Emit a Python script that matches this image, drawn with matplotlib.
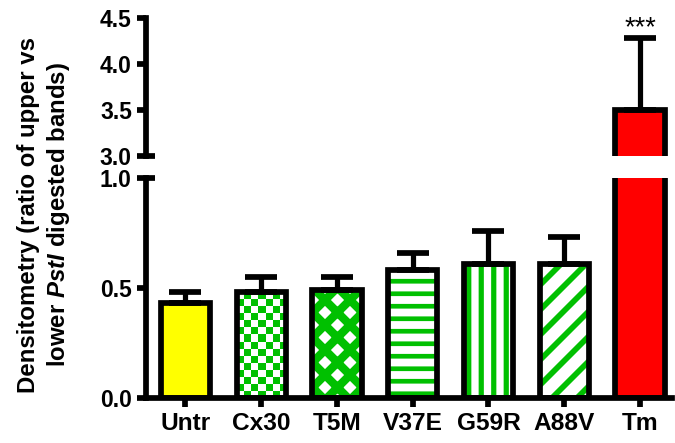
import numpy as np
import matplotlib
matplotlib.use('Agg')
import matplotlib.pyplot as plt
from matplotlib.colors import ListedColormap

plt.rcParams['font.family'] = ['Liberation Sans', 'DejaVu Sans']
plt.rcParams['font.weight'] = 'bold'
plt.rcParams['mathtext.fontset'] = 'custom'
plt.rcParams['mathtext.it'] = 'Liberation Sans:italic:bold'
plt.rcParams['mathtext.rm'] = 'Liberation Sans:bold'
plt.rcParams['hatch.linewidth'] = 4.5

# data
groups = ['Untr', 'Cx30', 'T5M', 'V37E', 'G59R', 'A88V', 'Tm']
means = [0.43, 0.48, 0.49, 0.58, 0.61, 0.61, 3.50]
errors = [0.05, 0.07, 0.06, 0.08, 0.15, 0.12, 0.78]

GREEN = '#00C000'
fills = ['#FFFF00', 'white', 'white', 'white', 'white', 'white', '#FF0000']
hatches = [None, 'checker', 'x', '-', '|', '/', None]
hatch_lw = {'x': 8.0, '-': 4.5, '|': 5.0, '/': 5.5}
LW = 5.5

fig = plt.figure(figsize=(9, 443 / 75), dpi=75)
ax_top = fig.add_axes([0.2163, 0.6479, 0.779, 0.3115])
ax_bot = fig.add_axes([0.2163, 0.1016, 0.779, 0.4966])

x = np.arange(len(groups))
width = 0.65
xlim = (-0.52, 6.42)

for ax, ylim in ((ax_top, (3.0, 4.5)), (ax_bot, (0.0, 1.0))):
    ax.set_xlim(*xlim)
    ax.set_ylim(*ylim)
    for i in x:
        h = hatches[i]
        if h in hatch_lw:
            b = ax.bar(i, means[i], width, color='white', edgecolor=GREEN,
                       hatch=h, linewidth=0, zorder=2)[0]
            if hasattr(b, 'set_hatch_linewidth'):
                b.set_hatch_linewidth(hatch_lw[h])
        else:
            b = ax.bar(i, means[i], width, color=fills[i], linewidth=0, zorder=2)[0]
        if h == 'checker' and ax is ax_bot:
            # checkerboard fill, clipped to the bar
            p0 = ax.transData.transform((0, 0))
            p1 = ax.transData.transform((1, 1))
            px_x, px_y = p1[0] - p0[0], p1[1] - p0[1]
            ncols = 7
            sq = width * px_x / ncols
            nrows = int(np.ceil(means[i] * px_y / sq))
            board = np.add.outer(np.arange(nrows), np.arange(ncols)) % 2
            im = ax.imshow(board, cmap=ListedColormap(['white', GREEN]),
                           extent=(i - width / 2, i + width / 2, 0, nrows * sq / px_y),
                           origin='lower', aspect='auto', interpolation='nearest',
                           zorder=2.5)
            im.set_clip_path(b)
    ax.errorbar(x, means, yerr=[np.zeros(len(x)), errors], fmt='none',
                ecolor='black', elinewidth=5, capsize=15, capthick=5.5, zorder=3)
    ax.bar(x, means, width, fill=False, edgecolor='black', linewidth=LW,
           joinstyle='miter', zorder=4)
    ax.set_xlim(*xlim)
    ax.set_ylim(*ylim)
    for s in ('top', 'right'):
        ax.spines[s].set_visible(False)
    ax.spines['left'].set_linewidth(LW)
    ax.spines['bottom'].set_linewidth(LW)
    ax.tick_params(direction='out', length=8.6, width=LW, labelsize=22, pad=5)

ax_top.spines['bottom'].set_visible(False)
ax_top.set_xticks([])
ax_top.set_yticks([3.0, 3.5, 4.0, 4.5])
ax_bot.set_yticks([0.0, 0.5, 1.0])
for ax in (ax_top, ax_bot):
    ax.set_yticklabels([f'{v:.1f}' for v in ax.get_yticks()], fontweight='bold')
ax_bot.set_xticks(x)
ax_bot.set_xticklabels(groups, fontsize=23.5, fontweight='bold')

# axis break marks
ax_top.plot([0, 0.018], [0, 0], transform=ax_top.transAxes, color='black',
            lw=LW, clip_on=False, solid_capstyle='butt', zorder=5)
ax_bot.plot([0, 0.018], [1, 1], transform=ax_bot.transAxes, color='black',
            lw=LW, clip_on=False, solid_capstyle='butt', zorder=5)

ax_top.text(6, 4.31, '***', ha='center', va='baseline', fontsize=26,
            fontweight='normal')

fig.text(45 / 675, 0.5147,
         'Densitometry (ratio of upper vs\nlower $\\mathit{PstI}$ digested bands)',
         rotation=90, ha='center', va='center', multialignment='center',
         fontsize=23, fontweight='bold', linespacing=1.25)

fig.savefig('out.png', dpi=75)
